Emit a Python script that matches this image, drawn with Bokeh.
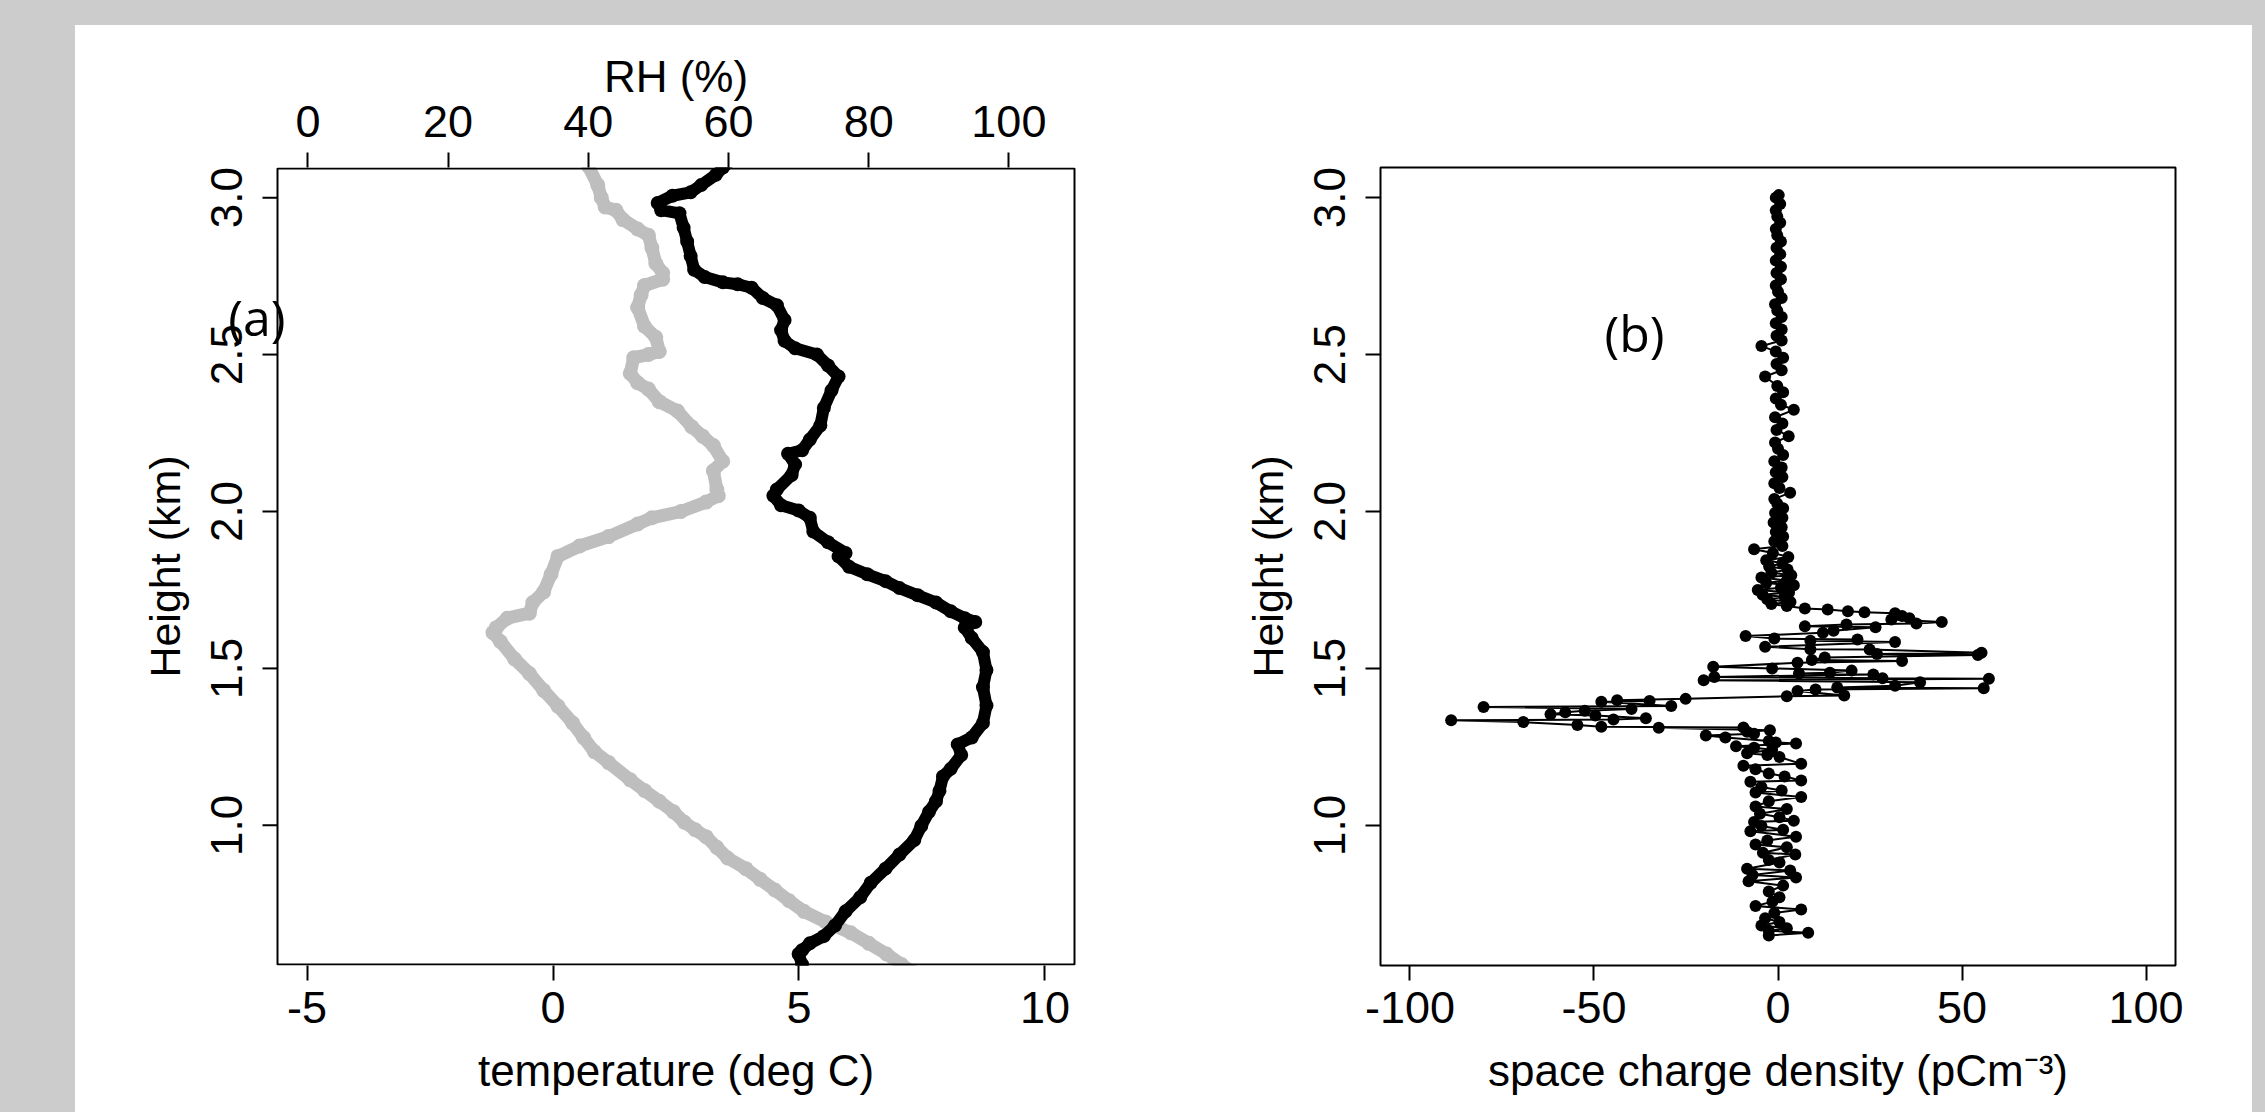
from bokeh.plotting import figure
from bokeh.models import Range1d, LinearAxis, FixedTicker, PrintfTickFormatter, Label, Spacer
from bokeh.layouts import row, column
from bokeh.embed import file_html
from bokeh.resources import INLINE

# ---------------- data ----------------
# panel (a): temperature profile (grey, bottom axis)
temp_height = [0.534, 0.557, 0.590, 0.624, 0.658, 0.692, 0.726, 0.760, 0.794, 0.828,
               0.862, 0.896, 0.930, 0.964, 0.986, 1.010, 1.043, 1.077, 1.111, 1.145,
               1.200, 1.235, 1.280, 1.326, 1.380, 1.430, 1.484, 1.530, 1.586, 1.614,
               1.630, 1.660, 1.676, 1.710, 1.744, 1.800, 1.857, 1.890, 1.920, 1.960,
               1.980, 2.000, 2.030, 2.050, 2.070, 2.130, 2.160, 2.210, 2.240, 2.270,
               2.320, 2.350, 2.390, 2.410, 2.440, 2.490, 2.500, 2.510, 2.555, 2.590,
               2.650, 2.690, 2.720, 2.740, 2.760, 2.790, 2.840, 2.880, 2.900, 2.930,
               2.960, 2.970, 3.000, 3.040, 3.100]
temp_degC = [7.30, 7.08, 6.78, 6.42, 6.05, 5.54, 5.10, 4.80, 4.51, 4.21,
             3.92, 3.55, 3.33, 3.11, 2.89, 2.67, 2.45, 2.16, 1.86, 1.57,
             1.13, 0.84, 0.62, 0.40, 0.10, -0.19, -0.48, -0.78, -1.07, -1.22,
             -1.15, -0.93, -0.48, -0.41, -0.19, -0.04, 0.10, 0.54, 1.13, 1.72,
             2.01, 2.60, 3.11, 3.36, 3.33, 3.26, 3.45, 3.26, 3.04, 2.82,
             2.53, 2.16, 1.94, 1.72, 1.57, 1.64, 1.94, 2.16, 2.09, 1.86,
             1.72, 1.79, 1.86, 2.23, 2.23, 2.09, 2.01, 1.94, 1.72, 1.42,
             1.28, 1.06, 0.98, 0.91, 0.72]

# panel (a): relative humidity profile (black, top axis)
rh_height = [0.557, 0.590, 0.602, 0.624, 0.647, 0.681, 0.726, 0.771, 0.817, 0.862,
             0.907, 0.953, 0.998, 1.043, 1.077, 1.110, 1.156, 1.180, 1.224, 1.258,
             1.280, 1.326, 1.382, 1.440, 1.495, 1.552, 1.597, 1.630, 1.648, 1.660,
             1.682, 1.710, 1.733, 1.756, 1.778, 1.800, 1.824, 1.857, 1.868, 1.902,
             1.936, 1.980, 2.003, 2.020, 2.050, 2.070, 2.116, 2.150, 2.184, 2.195,
             2.229, 2.274, 2.330, 2.386, 2.430, 2.465, 2.500, 2.520, 2.544, 2.578,
             2.610, 2.657, 2.680, 2.713, 2.724, 2.730, 2.747, 2.770, 2.814, 2.860,
             2.904, 2.950, 2.960, 2.983, 3.006, 3.017, 3.040, 3.073, 3.096, 3.120]
rh_percent = [70.5, 70.0, 70.5, 71.6, 73.6, 75.2, 76.7, 78.8, 80.3, 82.4,
              84.4, 86.5, 87.5, 88.6, 89.6, 90.1, 90.6, 91.7, 93.2, 92.7,
              94.7, 96.3, 96.8, 96.3, 96.8, 96.3, 94.7, 93.7, 95.2, 93.7,
              91.7, 89.6, 87.0, 84.4, 82.4, 79.8, 77.2, 75.7, 76.7, 74.2,
              72.1, 71.6, 70.0, 67.5, 66.4, 66.9, 69.0, 69.5, 68.5, 70.5,
              71.6, 73.1, 73.6, 74.7, 75.7, 74.2, 72.6, 69.5, 68.0, 67.5,
              68.0, 66.9, 64.9, 63.3, 61.3, 59.2, 56.6, 55.1, 54.6, 54.1,
              53.6, 53.0, 50.4, 49.9, 52.0, 54.6, 56.1, 58.2, 59.2, 60.5]

# panel (b): space charge density profile
scd_height = [0.649, 0.658, 0.664, 0.672, 0.681, 0.692, 0.704, 0.721, 0.732, 0.743,
              0.757, 0.771, 0.789, 0.808, 0.822, 0.834, 0.842, 0.856, 0.862, 0.882,
              0.890, 0.907, 0.913, 0.930, 0.939, 0.952, 0.964, 0.981, 0.986, 0.998,
              1.011, 1.015, 1.026, 1.037, 1.052, 1.060, 1.077, 1.090, 1.105, 1.111,
              1.122, 1.139, 1.143, 1.156, 1.165, 1.179, 1.190, 1.196, 1.218, 1.224,
              1.230, 1.241, 1.247, 1.252, 1.261, 1.264, 1.269, 1.280, 1.286, 1.292,
              1.298, 1.303, 1.311, 1.312, 1.314, 1.320, 1.329, 1.335, 1.337, 1.341,
              1.350, 1.354, 1.360, 1.365, 1.371, 1.377, 1.380, 1.394, 1.396, 1.399,
              1.403, 1.411, 1.414, 1.428, 1.433, 1.437, 1.439, 1.445, 1.456, 1.462,
              1.467, 1.469, 1.473, 1.481, 1.484, 1.486, 1.493, 1.500, 1.505, 1.518,
              1.524, 1.527, 1.535, 1.543, 1.546, 1.550, 1.560, 1.561, 1.569, 1.584,
              1.588, 1.592, 1.595, 1.603, 1.614, 1.620, 1.631, 1.634, 1.640, 1.643,
              1.648, 1.656, 1.660, 1.667, 1.676, 1.679, 1.682, 1.688, 1.691, 1.699,
              1.705, 1.712, 1.720, 1.728, 1.735, 1.742, 1.750, 1.757, 1.765, 1.772,
              1.780, 1.790, 1.797, 1.805, 1.815, 1.825, 1.835, 1.845, 1.855, 1.868,
              1.880, 1.890, 1.905, 1.920, 1.935, 1.950, 1.965, 1.980, 1.995, 2.010,
              2.025, 2.040, 2.060, 2.075, 2.090, 2.110, 2.125, 2.140, 2.160, 2.180,
              2.200, 2.220, 2.240, 2.260, 2.280, 2.300, 2.324, 2.340, 2.360, 2.380,
              2.400, 2.430, 2.450, 2.470, 2.490, 2.510, 2.527, 2.545, 2.560, 2.580,
              2.600, 2.620, 2.640, 2.660, 2.680, 2.700, 2.720, 2.740, 2.760, 2.780,
              2.800, 2.820, 2.840, 2.860, 2.880, 2.900, 2.920, 2.940, 2.960, 2.980,
              3.000, 3.008]
scd_value = [-2.5, 8.2, -2.5, 2.4, -4.5, 0.4, -3.5, -1.0, 6.3, -6.1,
             -1.5, 0.4, -2.5, 1.4, -8.0, 4.9, -6.9, 3.3, -8.4, 0.4,
             -2.5, 4.7, -4.1, 2.4, -6.1, -2.9, 4.9, -7.5, 1.4, -4.5,
             -6.5, 4.3, 0.4, -4.9, 2.4, -6.1, -2.5, 6.3, -6.1, 1.0,
             -4.5, -7.5, 6.3, 1.8, -2.5, -6.1, -9.4, 6.3, 0.4, -2.9,
             -8.4, -1.6, -6.5, -11.4, 4.9, -0.6, -2.5, -14.3, -19.6, -6.5,
             -8.4, -2.2, -32.4, -9.4, -48.0, -54.5, -69.2, -88.8, -44.7, -35.9,
             -49.6, -61.8, -57.8, -52.5, -39.8, -80.0, -29.0, -48.0, -34.9, -43.7,
             -25.1, 2.4, 18.0, 5.3, 10.2, 55.9, 16.1, 31.8, 38.6, -20.2,
             57.3, 28.4, -17.3, 25.9, 5.7, 14.1, 20.0, -1.6, -17.6, 5.3,
             33.7, 9.2, 12.7, 54.3, 26.9, 55.3, 24.9, 8.8, -3.5, 31.8,
             8.8, 21.6, -1.0, -8.8, 12.2, 15.1, 26.5, 7.3, 18.6, 37.6,
             44.5, 30.8, 35.7, 33.7, 31.8, 23.5, 19.0, 13.5, 7.3, 2.4,
             -1.8, 3.4, -2.9, 1.8, -4.2, 3.0, -5.5, 0.8, 4.3, -3.2,
             2.4, -4.5, 3.6, -1.8, 2.6, -2.4, 1.2, -3.2, 2.8, -1.4,
             -6.5, 1.2, -1.0, 1.4, -0.6, 1.0, -1.2, 1.2, -0.8, 1.4,
             -0.2, -1.0, 3.3, 0.4, -1.0, 1.2, -0.6, 1.0, -1.0, 1.4,
             0.0, -0.8, 2.9, -0.4, 1.2, -0.8, 4.3, 0.8, -0.6, 1.4,
             -0.2, -3.5, 1.0, -0.4, 1.4, -0.6, -4.5, 1.0, -0.4, 1.0,
             -0.6, 1.0, -0.2, -0.8, 1.0, 0.0, -0.6, 0.8, -0.4, 0.8,
             -0.6, 0.6, -0.4, 0.8, -0.2, -0.6, 0.6, -0.2, -0.6, 0.6,
             -0.6, 0.2]

temp_ticks = [-5, 0, 5, 10]
rh_ticks = [0, 20, 40, 60, 80, 100]
height_ticks = [1.0, 1.5, 2.0, 2.5, 3.0]
scd_ticks = [-100, -50, 0, 50, 100]

# axis limits of the drawn boxes
temp_lim = [-5.6, 10.6]
rh_lim = [-4.34, 109.36]
height_lim = [0.5535, 3.096]
scd_lim = [-108, 108]

FONT = "Liberation Sans"
GREY = "#BEBEBE"
EXT = 56   # px: panel (a) frame is widened so the "(a)" tag straddling the box is not clipped
TICK = 15  # px tick length


def style_axis(ax, ticks, fmt, label, vertical=False, label_standoff=11, title_standoff=20):
    ax.ticker = FixedTicker(ticks=ticks)
    ax.formatter = PrintfTickFormatter(format=fmt)
    ax.axis_label = label
    ax.axis_line_color = None
    ax.major_tick_out = TICK
    ax.major_tick_in = 0
    ax.major_tick_line_width = 2
    ax.major_tick_line_color = "black"
    ax.minor_tick_line_color = None
    ax.major_label_text_font = FONT
    ax.major_label_text_font_size = "44px" if vertical else "45px"
    ax.major_label_text_color = "black"
    ax.major_label_standoff = label_standoff
    ax.axis_label_text_font = FONT
    ax.axis_label_text_font_size = "43px" if vertical else "44px"
    ax.axis_label_text_font_style = "normal"
    ax.axis_label_text_color = "black"
    ax.axis_label_standoff = title_standoff
    if vertical:
        ax.major_label_orientation = "vertical"


def base_figure(width, xr, left, right):
    p = figure(width=width, height=1087, x_range=xr,
               y_range=Range1d(height_lim[0], height_lim[1]),
               output_backend="svg", toolbar_location=None,
               min_border_left=left, min_border_right=right,
               min_border_top=142, min_border_bottom=147)
    p.grid.visible = False
    p.background_fill_color = "white"
    p.border_fill_color = "white"
    p.outline_line_color = "black"
    p.outline_line_width = 2
    return p


# ---------------- panel (a) ----------------
box_w = 797.0
t_pp = (temp_lim[1] - temp_lim[0]) / box_w
r_pp = (rh_lim[1] - rh_lim[0]) / box_w
pa = base_figure(1057, Range1d(temp_lim[0] - EXT * t_pp, temp_lim[1] + EXT * t_pp),
                 202 - EXT, 58 - EXT)
pa.outline_line_color = None
bottom_a = pa.below[0]
left_a = pa.left[0]
pa.extra_x_ranges = {"rh": Range1d(rh_lim[0] - EXT * r_pp, rh_lim[1] + EXT * r_pp)}
top_a = LinearAxis(x_range_name="rh")
pa.add_layout(top_a, "above")

style_axis(bottom_a, temp_ticks, "%d", "temperature (deg C)")
style_axis(top_a, rh_ticks, "%d", "RH (%)", label_standoff=16, title_standoff=2)
# the left axis sits EXT px left of the drawn box: pull its labels in by EXT
style_axis(left_a, height_ticks, "%.1f", "Height (km)", vertical=True,
           label_standoff=20 + TICK - EXT, title_standoff=20)
left_a.major_tick_out = 0
left_a.major_tick_line_color = None

pa.line(temp_degC, temp_height, line_color=GREY, line_width=13,
        line_join="round", line_cap="round")
pa.scatter(temp_degC, temp_height, size=15, fill_color=GREY, line_color=None)
pa.line(rh_percent, rh_height, x_range_name="rh", line_color="black", line_width=12,
        line_join="round", line_cap="round")
pa.scatter(rh_percent, rh_height, x_range_name="rh", size=14,
           fill_color="black", line_color=None)

# the plot box of panel (a) and its left ticks
h_pp = (height_lim[1] - height_lim[0]) / 798.0
pa.quad(left=[temp_lim[0]], right=[temp_lim[1]],
        bottom=[height_lim[0] + h_pp], top=[height_lim[1] - h_pp],
        fill_color=None, line_color="black", line_width=2)
pa.segment(x0=[temp_lim[0] - TICK * t_pp] * len(height_ticks), y0=height_ticks,
           x1=[temp_lim[0]] * len(height_ticks), y1=height_ticks,
           line_color="black", line_width=2)

pa.add_layout(Label(x=-6.02, y=2.62, text="(a)", text_font="Open Sans",
                    text_font_size="50px", text_color="black",
                    text_align="center", text_baseline="middle"))

# ---------------- panel (b) ----------------
pb = base_figure(1120, Range1d(scd_lim[0], scd_lim[1]), 248, 77)
style_axis(pb.below[0], scd_ticks, "%d", "space charge density (pCm\u207b\u00b3)")
style_axis(pb.left[0], height_ticks, "%.1f", "Height (km)", vertical=True,
           label_standoff=20, title_standoff=20)

pb.line(scd_value, scd_height, line_color="black", line_width=2)
pb.scatter(scd_value, scd_height, size=12, fill_color="black", line_color=None)

pb.add_layout(Label(x=-39, y=2.57, text="(b)", text_font="Open Sans",
                    text_font_size="50px", text_color="black",
                    text_align="center", text_baseline="middle"))

layout = column(Spacer(width=2265, height=25),
                row(Spacer(width=75, height=1087),
                    row(pa, pb, styles={"background-color": "white"})))

html = file_html(layout, INLINE, title="profiles")
html = html.replace("</head>",
                    "<style>html, body {margin:0; padding:0; background:#cccccc;}</style></head>", 1)
open("out.html", "w").write(html)
